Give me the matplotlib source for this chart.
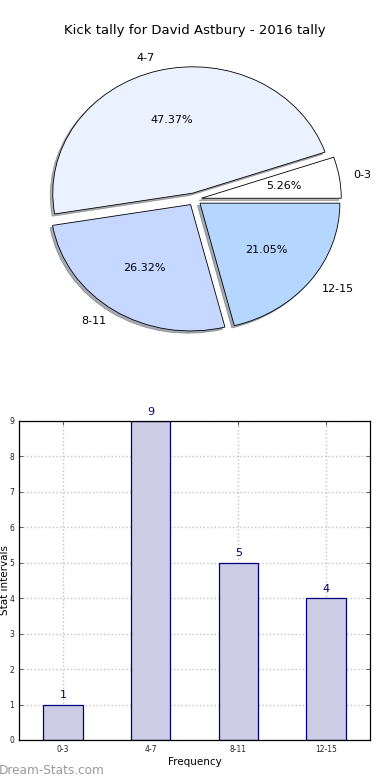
import numpy as np
import matplotlib
matplotlib.use("Agg")
import matplotlib.pyplot as plt

# data
categories = ["0-3", "4-7", "8-11", "12-15"]
counts = [1, 9, 5, 4]
pie_colors = ["#ffffff", "#eaf1ff", "#c6d8ff", "#b5d6ff"]

title = "Kick tally for David Astbury - 2016 tally"

plt.rcParams["font.family"] = ["DejaVu Sans"]

fig = plt.figure(figsize=(3.9, 7.8), dpi=100)

# --- pie ---
ax1 = fig.add_axes([0.050, 0.542, 0.897, 0.405])
wedges, texts, autotexts = ax1.pie(
    counts, labels=categories, colors=pie_colors, explode=[0.05] * 4,
    autopct="%.2f%%", startangle=0, counterclock=True,
    shadow={"ox": -0.013, "oy": -0.013, "shade": 0.6},
    wedgeprops={"edgecolor": "black", "linewidth": 0.6},
    textprops={"fontsize": 8})
ax1.set_aspect("auto")
ax1.set_xlim(-1.25, 1.25)
ax1.set_ylim(-1.25, 1.25)
fig.text(0.5, 0.961, title, ha="center", va="center", fontsize=9.5)

# --- bars ---
ax2 = fig.add_axes([0.049, 0.0513, 0.9, 0.409])
x = np.arange(len(categories))
ax2.bar(x, counts, width=0.45, color="#ccccE4", edgecolor="#000080",
        linewidth=0.9, zorder=2)
for xi, c in zip(x, counts):
    ax2.text(xi, c + 0.12, str(c), ha="center", va="bottom",
             color="#000080", fontsize=8)
ax2.set_xlim(-0.5, 3.5)
ax2.set_ylim(0, 9)
ax2.set_xticks(x)
ax2.set_xticklabels(categories)
ax2.set_yticks(range(10))
ax2.tick_params(labelsize=5.5, direction="in", length=3, top=True,
                right=True, width=0.5, colors="#222222")
ax2.grid(True, linestyle=":", color="#c4c4c4", linewidth=1, zorder=0)
ax2.set_axisbelow(True)
ax2.set_xlabel("Frequency", fontsize=7.5, labelpad=2)
ax2.set_ylabel("Stat intervals", fontsize=7.5, va="center")
ax2.yaxis.set_label_coords(-0.040, 0.5)
for s in ax2.spines.values():
    s.set_linewidth(0.9)

fig.text(-0.003, 0.004, "Dream-Stats.com", fontsize=8.7, color="#999999",
         ha="left", va="bottom")

fig.savefig("out.png", dpi=100)
